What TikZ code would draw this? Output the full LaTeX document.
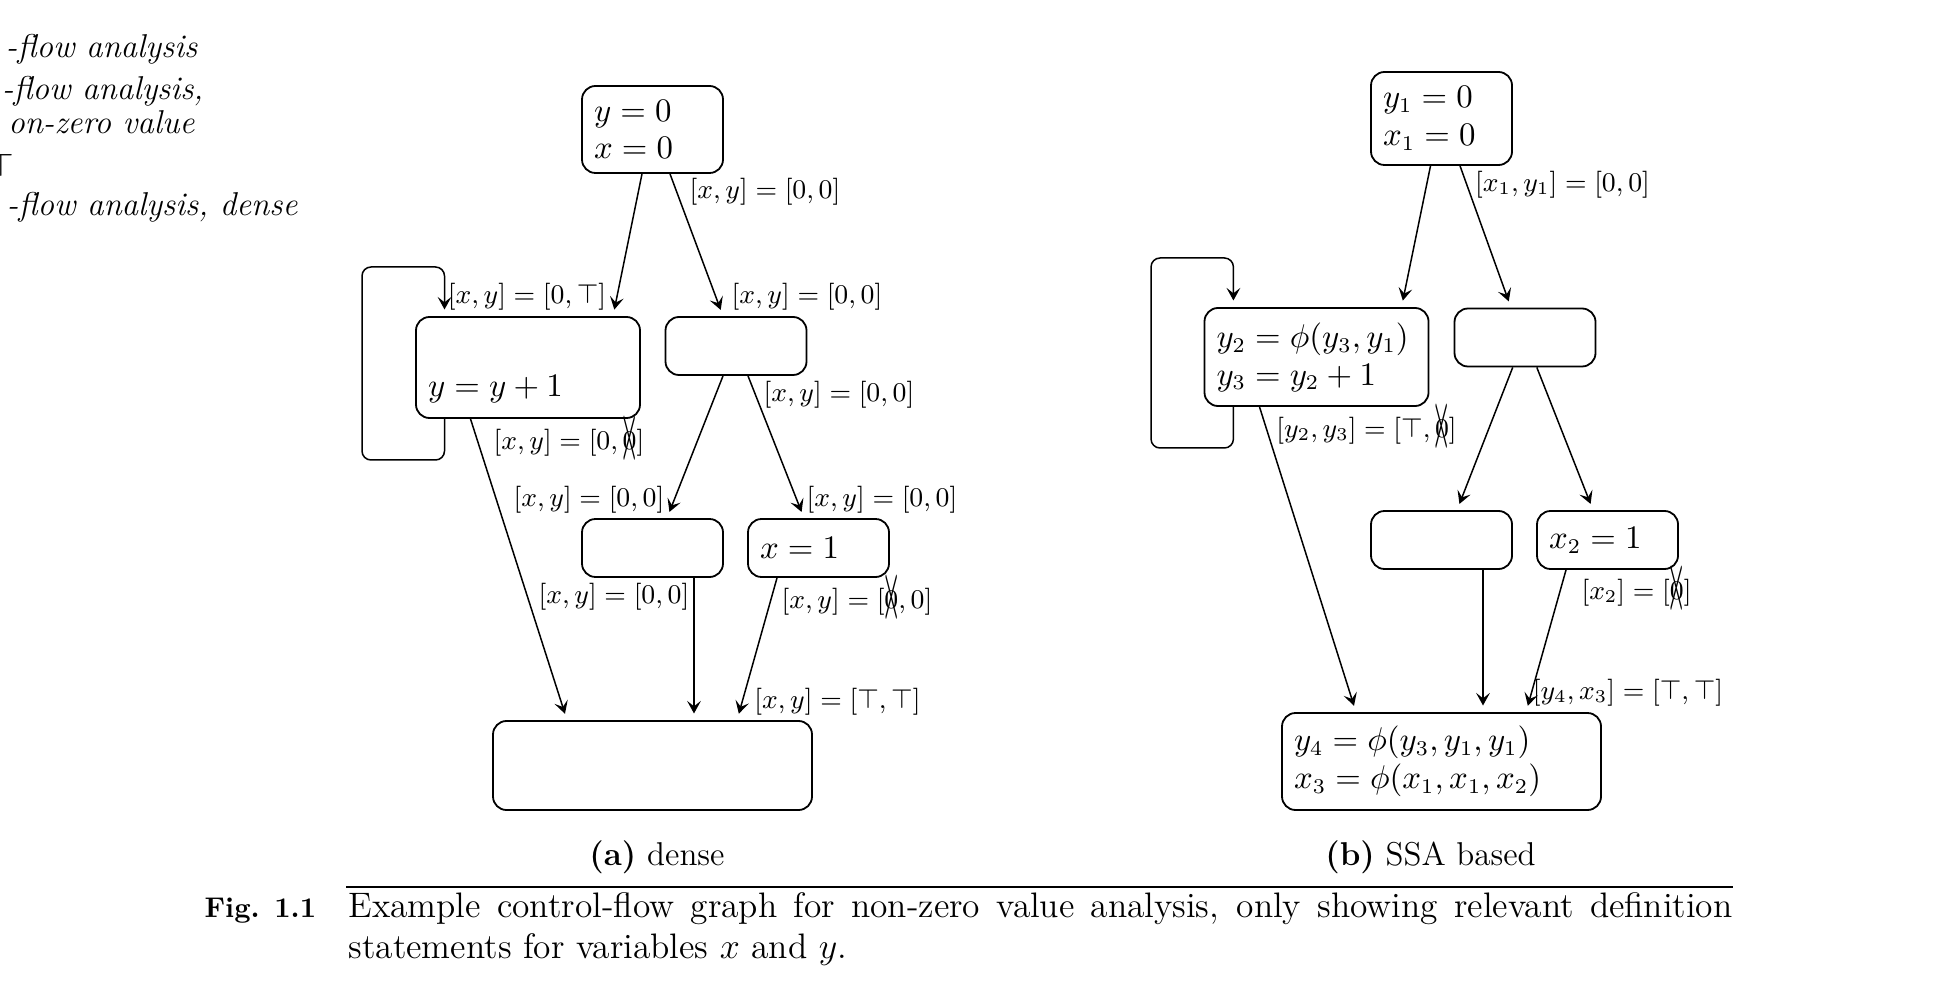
\documentclass[tikz,border=0pt]{standalone}
\usepackage{graphicx}
\usetikzlibrary{arrows.meta,calc}
\newcommand{\xzero}{\mbox{\ooalign{$0$\cr\hidewidth\smash{\raisebox{-0.38em}{\scalebox{0.85}[3.3]{$\times$}}}\hidewidth\cr}}}
\newcommand{\boxfont}{\fontsize{10.5}{12.6}\selectfont}
\newcommand{\lblfont}{\fontsize{9}{10.8}\selectfont}
\begin{document}
\begin{tikzpicture}[x=0.33333pt,y=-0.33333pt,
  blk/.style 2 args={draw, line width=0.6pt, rounded corners=4.5pt, inner xsep=4pt, inner ysep=0pt,
    text width=#1, minimum height=#2, align=left, font=\boxfont},
  lbl/.style={inner sep=0pt, font=\lblfont},
  conn/.style={line width=0.5pt, -{Stealth[length=4.2pt,width=4.6pt,inset=1.8pt]}, shorten >=2.2pt},
  mtxt/.style={inner sep=0pt, anchor=base east, font=\fontsize{11}{13.2}\selectfont\itshape},
  capf/.style={inner sep=0pt, font=\fontsize{11.8}{14}\selectfont}]
\useasboundingbox (0,0) rectangle (1951,1000);

% margin text (cut off)
\node[mtxt] (m1) at (198,58) {-flow analysis};
\node[mtxt] (m2) at (204,100) {-flow analysis,};
\node[mtxt] (m3) at (195,134) {on-zero value};
\node[inner sep=0pt, anchor=base, font=\fontsize{11}{13.2}\selectfont] (m4) at (1,177) {$\top$};
\node[mtxt] (m5) at (298,216) {-flow analysis, dense};

% ---------- (a) dense ----------
\node[blk={39pt}{29pt}] (A) at (652.5,129.5) {$y=0$\\$x=0$};
\node[blk={66.67pt}{33.67pt}] (B) at (528,367.5) {\strut\\$y=y+1$};
\node[blk={39pt}{19.33pt}] (C) at (736,346) {};
\node[blk={39pt}{19.33pt}] (D) at (652.5,548) {};
\node[blk={39pt}{19.33pt}] (E) at (818.5,548) {$x=1$};
\node[blk={98.33pt}{29.67pt}] (F) at (652.5,765.5) {};

\coordinate (la1) at (362,460);
\coordinate (la2) at (362,267);

\draw[conn] ([xshift=-3.5pt]A.south) -- ([xshift=28.33pt]B.north);
\draw[conn] ([xshift=5.83pt]A.south) -- ([xshift=-4.33pt]C.north);
\draw[conn, rounded corners=3pt] ([xshift=-27.83pt]B.south) |- (la1) -- (la2) -| ([xshift=-27.83pt]B.north);
\draw[conn] ([xshift=-19.17pt]B.south) -- ([xshift=-28.5pt]F.north);
\draw[conn] ([xshift=-4.33pt]C.south) -- ([xshift=4.83pt]D.north);
\draw[conn] ([xshift=4pt]C.south) -- ([xshift=-4.83pt]E.north);
\draw[conn] ([xshift=13.83pt]D.south) -- ([xshift=13.83pt]F.north);
\draw[conn] ([xshift=-13.83pt]E.south) -- ([xshift=28.17pt]F.north);

\node[lbl] (l1) at (765,192) {$[x,y]=[0,0]$};
\node[lbl] (l2) at (527,297) {$[x,y]=[0,\top]$};
\node[lbl] (l3) at (807,297) {$[x,y]=[0,0]$};
\node[lbl] (l4) at (569,443) {$[x,y]=[0,\xzero]$};
\node[lbl] (l5) at (839,395) {$[x,y]=[0,0]$};
\node[lbl] (l6) at (589,500) {$[x,y]=[0,0]$};
\node[lbl] (l7) at (882,500) {$[x,y]=[0,0]$};
\node[lbl] (l8) at (614,597) {$[x,y]=[0,0]$};
\node[lbl] (l9) at (857,602) {$[x,y]=[\xzero,0]$};
\node[lbl] (l10) at (837.5,702) {$[x,y]=[\top,\top]$};

% ---------- (b) SSA based ----------
\node[blk={39pt}{31pt}] (G) at (1441.5,118.5) {$y_1=0$\\$x_1=0$};
\node[blk={66.67pt}{32.67pt}] (H) at (1316.5,357) {$y_2=\phi(y_3,y_1)$\\$y_3=y_2+1$};
\node[blk={39pt}{19.33pt}] (I) at (1525,337.5) {};
\node[blk={39pt}{19.33pt}] (J) at (1441.5,540) {};
\node[blk={39pt}{19.33pt}] (K) at (1607.5,540) {$x_2=1$};
\node[blk={98.33pt}{32.33pt}] (L) at (1441.5,761.5) {$y_4=\phi(y_3,y_1,y_1)$\\$x_3=\phi(x_1,x_1,x_2)$};

\coordinate (lb1) at (1151,448);
\coordinate (lb2) at (1151,258);

\draw[conn] ([xshift=-3.67pt]G.south) -- ([xshift=28.33pt]H.north);
\draw[conn] ([xshift=6.17pt]G.south) -- ([xshift=-4.67pt]I.north);
\draw[conn, rounded corners=3pt] ([xshift=-27.7pt]H.south) |- (lb1) -- (lb2) -| ([xshift=-27.7pt]H.north);
\draw[conn] ([xshift=-19pt]H.south) -- ([xshift=-28.5pt]L.north);
\draw[conn] ([xshift=-4.1pt]I.south) -- ([xshift=5.17pt]J.north);
\draw[conn] ([xshift=3.93pt]I.south) -- ([xshift=-4.83pt]K.north);
\draw[conn] ([xshift=13.83pt]J.south) -- ([xshift=13.83pt]L.north);
\draw[conn] ([xshift=-13.83pt]K.south) -- ([xshift=28.17pt]L.north);

\node[lbl] (s1) at (1562.5,185) {$[x_1,y_1]=[0,0]$};
\node[lbl] (s2) at (1366.5,431) {$[y_2,y_3]=[\top,\xzero]$};
\node[lbl] (s3) at (1636.5,593) {$[x_2]=[\xzero]$};
\node[lbl] (s4) at (1628,693) {$[y_4,x_3]=[\top,\top]$};

% ---------- captions ----------
\node[inner sep=0pt, anchor=base, font=\fontsize{11}{13.2}\selectfont] (ca) at (657,865) {\textbf{(a)} dense};
\node[inner sep=0pt, anchor=base, font=\fontsize{11}{13.2}\selectfont] (cb) at (1430.5,865) {\textbf{(b)} SSA based};
\coordinate (r1) at (346,887);
\coordinate (r2) at (1733,887);
\draw[line width=0.6pt] (r1) -- (r2);
\node[inner sep=0pt, anchor=base west, font=\fontsize{9.5}{11.4}\selectfont\bfseries] (fig) at (204,917) {Fig. 1.1};
\node[capf, anchor=base west] (cap1) at (348,917) {\makebox[461.3pt][s]{Example control-flow graph for non-zero value analysis, only showing relevant definition}};
\node[capf, anchor=base west] (cap2) at (348,958) {statements for variables $x$ and $y$.};
\end{tikzpicture}
\end{document}
